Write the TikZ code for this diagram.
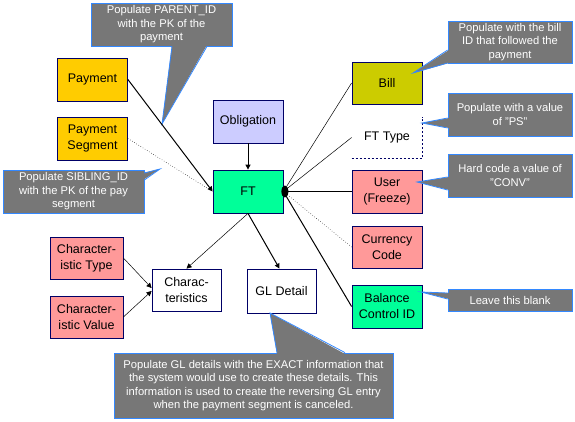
\documentclass[tikz,border=0pt]{standalone}
\usepackage{fontspec}
\setmainfont{Liberation Sans}
\usetikzlibrary{arrows.meta,calc}
\definecolor{navy}{HTML}{000066}
\definecolor{cgray}{HTML}{777777}
\definecolor{cblue}{HTML}{3388FF}
\definecolor{cyel}{HTML}{FFCC00}
\definecolor{clav}{HTML}{CCCCFF}
\definecolor{cgreen}{HTML}{00FF99}
\definecolor{colive}{HTML}{CCCC00}
\definecolor{cpink}{HTML}{FF9999}
\tikzset{
  ent/.style={draw=navy, line width=0.8pt, minimum width=70pt, minimum height=43pt,
    align=center, font=\fontsize{12.5}{16}\selectfont, inner sep=1pt},
  callout/.style={draw=cblue, fill=cgray, line width=0.8pt, text=white, align=center,
    font=\fontsize{11.2}{13.5}\selectfont, inner sep=1pt},
  ptrfill/.style={fill=cgray},
  ptredge/.style={draw=cblue, line width=0.8pt},
  thinlink/.style={line width=0.5pt},
  boldlink/.style={line width=1pt},
  arr/.style={-{Triangle[length=5pt,width=5pt]}},
}
\begin{document}
\begin{tikzpicture}[x=1pt,y=-1pt]
\path[use as bounding box] (0,0) rectangle (575,422);

% entity boxes
\node[ent, fill=cyel] (pay) at (92.5,79.5) {Payment};
\node[ent, fill=cyel] (pseg) at (92.5,138.5) {Payment\\Segment};
\node[ent, fill=clav] (obl) at (248,121.5) {Obligation};
\node[ent, fill=cgreen] (ft) at (248,191.5) {FT};
\node[ent, fill=colive, minimum height=42pt] (bill) at (387,83) {Bill};
\node[ent, draw=none, minimum height=41pt] (ftt) at (387,137.5) {FT Type};
\node[ent, fill=cpink] (user) at (387,191.5) {User\\(Freeze)};
\node[ent, fill=cpink, minimum height=42pt] (cur) at (387,247) {Currency\\Code};
\node[ent, fill=cgreen] (bal) at (387,306.5) {Balance\\Control ID};
\node[ent, fill=cpink, minimum width=73pt, minimum height=42pt] (ctype) at (86.5,258) {Character-\\istic Type};
\node[ent, fill=cpink, minimum width=73pt, minimum height=42pt] (cval) at (86.5,317) {Character-\\istic Value};
\node[ent, fill=white, minimum width=69pt, minimum height=42pt] (chars) at (186.5,290) {Charac-\\teristics};
\node[ent, fill=white, minimum width=69pt, minimum height=44pt] (gld) at (281.5,291) {GL Detail};

\draw[navy, line width=0.8pt, dash pattern=on 2pt off 2pt] (ftt.south west) -- (ftt.south east) -- (ftt.north east);

% callouts
\node[callout, minimum width=141pt, minimum height=43pt] (c1) at (161.5,24.5) {Populate PARENT\_ID\\with the PK of the\\payment};
\node[callout, minimum width=141pt, minimum height=43pt] (c2) at (73.5,191.5) {Populate SIBLING\_ID\\with the PK of the pay\\segment};
\node[callout, minimum width=124pt, minimum height=42pt] (c3) at (510,42) {Populate with the bill\\ID that followed the\\payment};
\node[callout, minimum width=124pt, minimum height=43pt] (c4) at (510,114.5) {Populate with a value\\of "PS"};
\node[callout, minimum width=124pt, minimum height=43pt] (c5) at (510,175.5) {Hard code a value of\\"CONV"};
\node[callout, minimum width=124pt, minimum height=22pt] (c6) at (510,300) {Leave this blank};
\node[callout, minimum width=279pt, minimum height=65pt] (c7) at (253.5,385.5) {Populate GL details with the EXACT information that\\the system would use to create these details. This\\information is used to create the reversing GL entry\\when the payment segment is canceled.};

% pointers
\coordinate (t1) at (162,124);
\fill[ptrfill] (172,45) -- (t1) -- (207,45) -- cycle;
\draw[ptredge] (172,46.4) -- (t1) -- (207,46.4);
\coordinate (t2) at (160,169);
\fill[ptrfill] (143,173) -- (t2) -- (143,180) -- cycle;
\draw[ptredge] (144.4,173) -- (t2) -- (144.4,180);
\coordinate (t3) at (413,73);
\fill[ptrfill] (449,50) -- (t3) -- (449,63) -- cycle;
\draw[ptredge] (447.6,50) -- (t3) -- (447.6,63);
\coordinate (t4) at (422,123);
\fill[ptrfill] (449,118) -- (t4) -- (449,128) -- cycle;
\draw[ptredge] (447.6,118) -- (t4) -- (447.6,128);
\coordinate (t5) at (417,182);
\fill[ptrfill] (449,177) -- (t5) -- (449,190) -- cycle;
\draw[ptredge] (447.6,177) -- (t5) -- (447.6,190);
\coordinate (t6) at (421,292);
\fill[ptrfill] (449,293) -- (t6) -- (449,299) -- cycle;
\draw[ptredge] (447.6,293) -- (t6) -- (447.6,299);
\coordinate (t7) at (270,313);
\fill[ptrfill] (277,354) -- (t7) -- (345,354) -- cycle;
\draw[ptredge] (277,352.6) -- (t7) -- (345,352.6);

% connectors
\draw[boldlink, arr] (pay.east) -- (ft.west);
\draw[thinlink, dotted, shorten >=6pt] (pseg.east) -- (ft.west);
\draw[boldlink, arr] (obl.south) -- (ft.north);
\draw[thinlink, arr] (ft.south) -- (chars.north);
\draw[boldlink, arr] (ft.south) -- ([xshift=-2pt]gld.north);
\draw[thinlink, arr] (ctype.east) -- ([yshift=2pt]chars.west);
\draw[thinlink, arr] (cval.east) -- ([yshift=-1pt]chars.west);
\draw[thinlink] (ft.east) -- (bill.west);
\draw[thinlink] (ft.east) -- (ftt.west);
\draw[boldlink] (ft.east) -- (user.west);
\draw[thinlink, dotted] (ft.east) -- (cur.west);
\draw[boldlink] (ft.east) -- (bal.west);
\fill[black] ($(ft.east)+(1.5,0)$) ellipse [x radius=3.5pt, y radius=6pt];
\end{tikzpicture}
\end{document}
